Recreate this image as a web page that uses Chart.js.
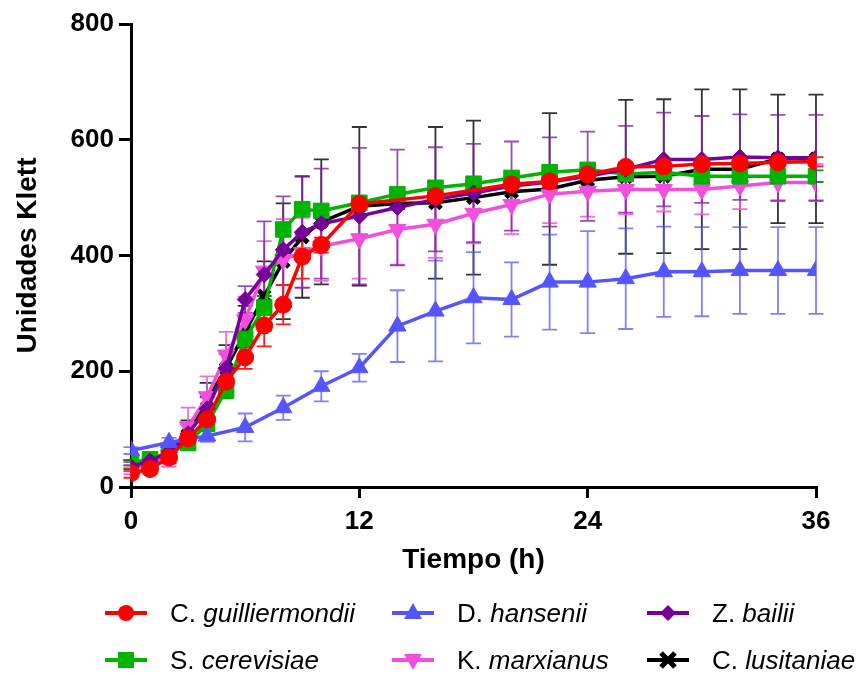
<!DOCTYPE html>
<html>
<head>
<meta charset="utf-8">
<script src="https://cdn.jsdelivr.net/npm/chart.js@4/dist/chart.umd.min.js"></script>
<style>
  html, body { margin: 0; padding: 0; background: #fff; }
  #wrap { position: relative; width: 860px; height: 675px; }
  canvas { position: absolute; left: 0; top: 0; }
  .lg { position: absolute; height: 30px; line-height: 30px; font-family: "Liberation Sans", Arial, sans-serif; font-size: 26px; color: #000; white-space: nowrap; }
  .lg svg { position: absolute; left: 0; top: 0; }
  .lg span { position: absolute; top: 0; }
</style>
</head>
<body>
<div id="wrap">
  <canvas id="c" width="860" height="675"></canvas>
  <div id="legend"></div>
</div>
<script>
// ---- data ----
const times = [0,1,2,3,4,5,6,7,8,9,10,12,14,16,18,20,22,24,26,28,30,32,34,36];
const timesGuil = [0,1,2,3,4,5,6,7,8,9,10,12,16,20,22,24,26,28,30,32,34,36];
const timesHans = [0,2,4,6,8,10,12,14,16,18,20,22,24,26,28,30,32,34,36];

const guilliermondii = [24,31,51,84,117,182,224,279,315,398,418,489,503,523,528,540,553,554,558,559,561,562];
const guilliermondiiErr = [8,8,10,12,14,18,20,36,34,38,13,10,10,14,10,10,8,10,8,8,8,8];

const hansenii = [63,77,88,103,137,174,206,278,304,327,324,354,354,360,372,372,374,374,374];
const hanseniiErr = [6,8,10,24,21,26,24,62,87,79,64,82,88,87,78,77,75,75,75];

const bailii = [35,45,60,92,135,205,324,367,410,440,455,468,483,497,508,520,527,537,549,566,566,570,569,569];
const bailiiErr = [8,8,12,15,20,25,23,92,92,96,95,118,100,90,85,77,77,77,75,81,75,74,74,74];

const cerevisiae = [42,48,60,76,109,168,256,310,445,480,477,491,506,517,524,534,544,548,541,544,537,537,537,537];
const cerevisiaeErr = [5,5,8,10,12,15,15,20,10,10,10,10,10,10,10,10,10,10,10,10,10,10,10,10];

const marxianus = [30,40,55,104,156,228,289,373,393,405,416,429,445,454,473,488,506,511,514,514,514,520,526,526];
const marxianusErr = [8,10,20,33,35,40,40,52,70,60,60,69,61,58,52,51,50,44,43,38,43,40,32,32];

const lusitaniae = [38,46,58,90,150,205,268,330,390,432,458,485,490,491,500,510,515,530,536,537,549,549,567,567];
const lusitaniaeErr = [8,8,12,25,30,40,45,60,100,105,108,137,10,131,133,15,131,15,133,133,138,138,111,111];

const xTicks = [0,12,24,36];
const yTicks = [0,200,400,600,800];

function pts(t, v) { return t.map((x, i) => ({x: x, y: v[i]})); }

const FONT = "'Liberation Sans', Arial, sans-serif";

const datasets = [
  { label: 'C. guilliermondii', data: pts(timesGuil, guilliermondii), errors: guilliermondiiErr,
    borderColor: '#ff0000', backgroundColor: '#ff0000', errorColor: '#ff1a1a',
    pointStyle: 'circle', pointRadius: 8.5 },
  { label: 'D. hansenii', data: pts(timesHans, hansenii), errors: hanseniiErr,
    borderColor: '#5555ff', backgroundColor: '#5555ff', errorColor: 'rgba(85,85,255,0.75)',
    pointStyle: 'triangle', pointRadius: 10 },
  { label: 'Z. bailii', data: pts(times, bailii), errors: bailiiErr,
    borderColor: '#770099', backgroundColor: '#770099', errorColor: 'rgba(130,30,170,0.8)',
    pointStyle: 'rectRot', pointRadius: 8 },
  { label: 'S. cerevisiae', data: pts(times, cerevisiae), errors: cerevisiaeErr,
    borderColor: '#00b400', backgroundColor: '#00b400', errorColor: '#00a000',
    pointStyle: 'rect', pointRadius: 11 },
  { label: 'K. marxianus', data: pts(times, marxianus), errors: marxianusErr,
    borderColor: '#f24fdc', backgroundColor: '#f24fdc', errorColor: 'rgba(242,90,222,0.9)',
    pointStyle: 'triangle', pointRotation: 180, pointRadius: 10 },
  { label: 'C. lusitaniae', data: pts(times, lusitaniae), errors: lusitaniaeErr,
    borderColor: '#000000', backgroundColor: '#000000', errorColor: '#333333',
    pointStyle: 'crossRot', pointRadius: 8, pointBorderWidth: 5 }
];
datasets.forEach(d => {
  d.borderWidth = 3.5;
  d.tension = 0;
  d.fill = false;
  d.pointBackgroundColor = d.backgroundColor;
  d.pointBorderColor = d.borderColor;
  if (d.pointBorderWidth === undefined) d.pointBorderWidth = 1;
});

const errorBars = {
  id: 'errorBars',
  beforeDatasetsDraw(chart) {
    const ctx = chart.ctx, xs = chart.scales.x, ys = chart.scales.y;
    for (let i = chart.data.datasets.length - 1; i >= 0; i--) {
      const ds = chart.data.datasets[i];
      ctx.save();
      ctx.strokeStyle = ds.errorColor;
      ctx.lineWidth = 1.8;
      ds.data.forEach((p, j) => {
        const e = ds.errors[j];
        const px = xs.getPixelForValue(p.x);
        const top = ys.getPixelForValue(p.y + e);
        const bot = ys.getPixelForValue(p.y - e);
        const w = 7.5;
        ctx.beginPath();
        ctx.moveTo(px, top); ctx.lineTo(px, bot);
        ctx.moveTo(px - w, top); ctx.lineTo(px + w, top);
        ctx.moveTo(px - w, bot); ctx.lineTo(px + w, bot);
        ctx.stroke();
      });
      ctx.restore();
    }
  }
};

new Chart(document.getElementById('c'), {
  type: 'line',
  data: { datasets: datasets },
  plugins: [errorBars],
  options: {
    responsive: false,
    animation: false,
    layout: { padding: { left: 0, top: 24, right: 44, bottom: 98 } },
    plugins: { legend: { display: false }, tooltip: { enabled: false } },
    scales: {
      x: {
        type: 'linear', min: 0, max: 36,
        afterFit: s => { s.height = 90; },
        afterBuildTicks: s => { s.ticks = xTicks.map(v => ({value: v})); },
        border: { display: true, color: '#000', width: 3 },
        grid: { display: true, drawOnChartArea: false, drawTicks: true, tickLength: 11, color: '#000', lineWidth: 3 },
        ticks: { color: '#000', padding: 8, font: { family: FONT, size: 26, weight: 'bold' } },
        title: { display: true, text: 'Tiempo (h)', color: '#000', padding: { top: 0, bottom: 0 },
                 font: { family: FONT, size: 28, weight: 'bold' } }
      },
      y: {
        min: 0, max: 800,
        afterFit: s => { s.width = 131; },
        afterBuildTicks: s => { s.ticks = yTicks.map(v => ({value: v})); },
        border: { display: true, color: '#000', width: 3 },
        grid: { display: true, drawOnChartArea: false, drawTicks: true, tickLength: 12, color: '#000', lineWidth: 3 },
        ticks: { color: '#000', padding: 5, font: { family: FONT, size: 26, weight: 'bold' } },
        title: { display: true, text: 'Unidades Klett', color: '#000', padding: { top: 11, bottom: 0 },
                 font: { family: FONT, size: 28, weight: 'bold' } }
      }
    }
  }
});

// ---- HTML legend ----
const legendItems = [
  { genus: 'C.', species: 'guilliermondii', color: '#ff0000', shape: 'circle', x: 105, y: 613 },
  { genus: 'D.', species: 'hansenii', color: '#5555ff', shape: 'triangle', x: 392, y: 613 },
  { genus: 'Z.', species: 'bailii', color: '#770099', shape: 'diamond', x: 647, y: 613 },
  { genus: 'S.', species: 'cerevisiae', color: '#00b400', shape: 'square', x: 105, y: 660 },
  { genus: 'K.', species: 'marxianus', color: '#f24fdc', shape: 'down', x: 392, y: 660 },
  { genus: 'C.', species: 'lusitaniae', color: '#000000', shape: 'cross', x: 647, y: 660 }
];
function markerSvg(shape, c) {
  const cx = 21, cy = 15;
  switch (shape) {
    case 'circle': return `<circle cx="${cx}" cy="${cy}" r="8" fill="${c}"/>`;
    case 'triangle': return `<polygon points="${cx},${cy-10} ${cx+9},${cy+6} ${cx-9},${cy+6}" fill="${c}"/>`;
    case 'down': return `<polygon points="${cx},${cy+10} ${cx+9},${cy-6} ${cx-9},${cy-6}" fill="${c}"/>`;
    case 'diamond': return `<polygon points="${cx},${cy-8} ${cx+8},${cy} ${cx},${cy+8} ${cx-8},${cy}" fill="${c}"/>`;
    case 'square': return `<rect x="${cx-8}" y="${cy-8}" width="16" height="16" fill="${c}"/>`;
    case 'cross': return `<path d="M${cx-7},${cy-7} L${cx+7},${cy+7} M${cx+7},${cy-7} L${cx-7},${cy+7}" stroke="${c}" stroke-width="5"/>`;
  }
  return '';
}
const lg = document.getElementById('legend');
legendItems.forEach(it => {
  const d = document.createElement('div');
  d.className = 'lg';
  d.style.left = it.x + 'px';
  d.style.top = (it.y - 15) + 'px';
  d.style.width = '260px';
  d.innerHTML = `<svg width="42" height="30"><line x1="0" y1="15" x2="42" y2="15" stroke="${it.color}" stroke-width="4"/>${markerSvg(it.shape, it.color)}</svg>` +
    `<span style="left:65px">${it.genus} <i>${it.species}</i></span>`;
  lg.appendChild(d);
});
</script>
</body>
</html>
